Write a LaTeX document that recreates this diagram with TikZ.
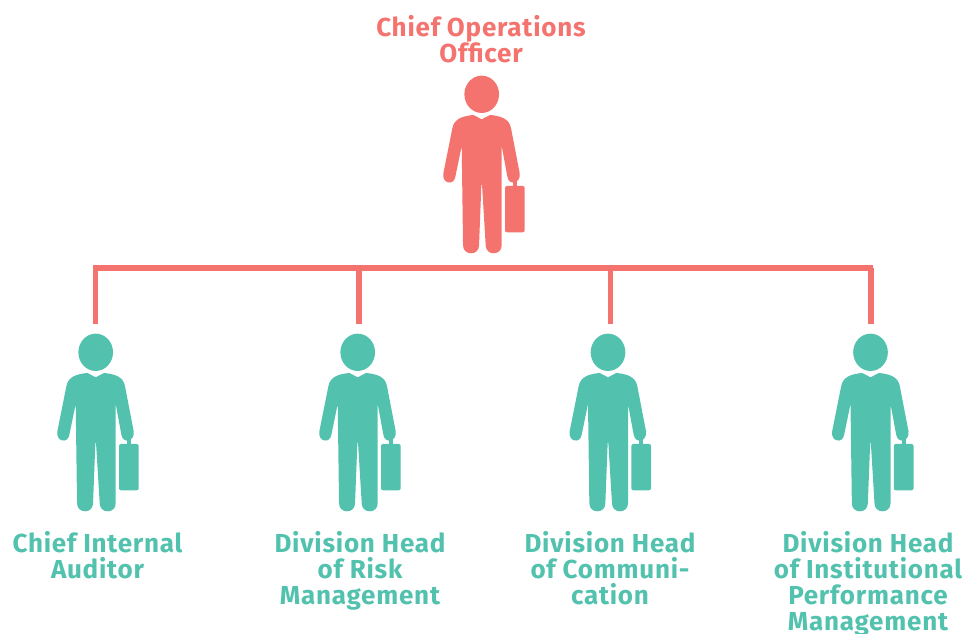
\documentclass[tikz,border=0pt]{standalone}
\usepackage{fontspec}
\setmainfont{Fira Sans}[LetterSpace=3]
\definecolor{cored}{HTML}{F5736E}
\definecolor{coteal}{HTML}{52C2AE}
\tikzset{
  person/.pic={
    \begin{scope}[x=0.25pt,y=-0.25pt,shift={(-185,-103)}]
    \fill (185,103) ellipse [x radius=52,y radius=56];
    \fill (160,165) -- (185,178) -- (210,165) .. controls (240,168) and (268,175) .. (273,205) -- (299,340)
      .. controls (303,372) and (266,378) .. (262,350)
      -- (245,258) -- (245,556) .. controls (245,588) and (197,588) .. (197,556) -- (186,375) -- (184,375)
      -- (177,556) .. controls (177,588) and (129,588) .. (129,556) -- (125,258) -- (106,350)
      .. controls (102,378) and (65,372) .. (70,340) -- (97,205) .. controls (102,175) and (130,168) .. (160,165) -- cycle;
    \fill (278,362) rectangle (291,380);
    \fill[rounded corners=1.5pt] (255,378) rectangle (314,517);
    \end{scope}
  },
  toplabel/.style={text=cored,font=\fontsize{19.5pt}{19.5pt}\selectfont\bfseries,align=center,inner sep=0pt,anchor=north},
  sublabel/.style={text=coteal,font=\fontsize{19.5pt}{19.5pt}\selectfont\bfseries,align=center,inner sep=0pt,anchor=north},
  linkline/.style={draw=cored,line width=4pt}
}
\begin{document}
\begin{tikzpicture}[x=0.75pt,y=-0.75pt]
\useasboundingbox (0,0) rectangle (962,633);
\pic[fill=cored] at (481.7,94.3) {person};
\pic[fill=coteal] at (95.7,352.3) {person};
\pic[fill=coteal] at (357.7,352.3) {person};
\pic[fill=coteal] at (608,352.3) {person};
\pic[fill=coteal] at (870.5,352.3) {person};
\coordinate (barR) at (873,268);
\coordinate (j2) at (359,268);
\coordinate (j3) at (610.5,268);
\coordinate (j4) at (871,268);
\coordinate (e1) at (95.7,324);
\coordinate (e2) at (359,324);
\coordinate (e3) at (610.5,324);
\coordinate (e4) at (871,324);
\draw[linkline] (e1) |- (barR);
\draw[linkline] (j2) -- (e2);
\draw[linkline] (j3) -- (e3);
\draw[linkline] (j4) -- (e4);
\node[toplabel] (t0) at (481,15) {Chief Operations\\Officer};
\node[sublabel] (t1) at (97.5,531) {Chief Internal\\Auditor};
\node[sublabel] (t2) at (360,531) {Division Head\\of Risk\\Management};
\node[sublabel] (t3) at (610,531) {Division Head\\of Communi-\\cation};
\node[sublabel] (t4) at (868,531) {Division Head\\of Institutional\\Performance\\Management};
\end{tikzpicture}
\end{document}
